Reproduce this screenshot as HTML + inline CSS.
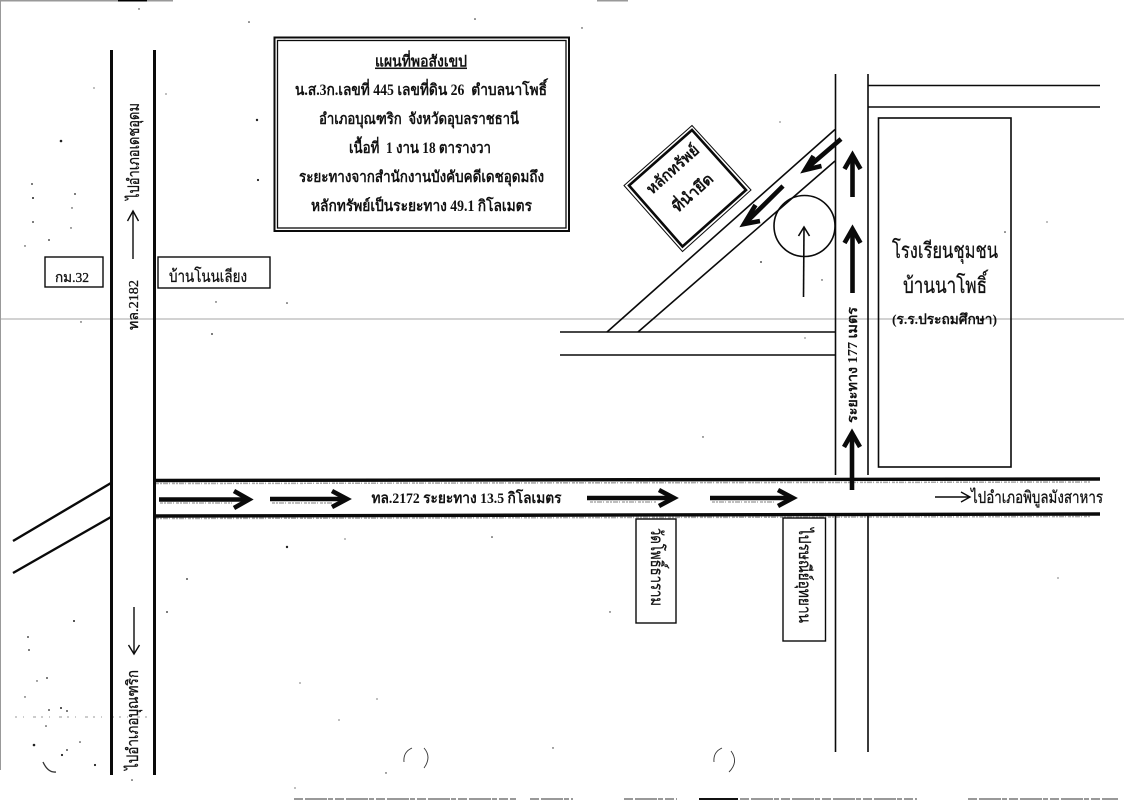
<!DOCTYPE html>
<html><head><meta charset="utf-8">
<style>
html,body{margin:0;padding:0;background:#fff;width:1124px;height:800px;overflow:hidden}
svg{display:block}
text{font-family:"Liberation Serif","Noto Serif CJK SC","WenQuanYi Zen Hei",serif;fill:#111}
.m{stroke:#111;stroke-width:.3}
</style></head><body>
<svg width="1124" height="800" viewBox="0 0 1124 800" xmlns="http://www.w3.org/2000/svg">
<rect width="1124" height="800" fill="#fff"/>
<!-- scan edges -->
<line x1="0" y1="319" x2="1124" y2="319" stroke="#a5a5a5" stroke-width="1"/>
<line x1="0.5" y1="0" x2="0.5" y2="770" stroke="#999" stroke-width="1"/>
<g stroke-width="2" fill="none">
<line x1="0" y1="0.5" x2="173" y2="0.5" stroke="#999"/>
<line x1="118" y1="0.5" x2="147" y2="0.5" stroke="#000"/>
<line x1="597" y1="0.5" x2="628" y2="0.5" stroke="#999"/>
<g stroke="#999" stroke-dasharray="9 2 22 1 5 2">
<line x1="294" y1="799" x2="516" y2="799"/>
<line x1="530" y1="799" x2="573" y2="799"/>
<line x1="624" y1="799" x2="677" y2="799"/>
<line x1="699" y1="799" x2="917" y2="799"/>
<line x1="968" y1="799" x2="1118" y2="799"/>
</g>
<line x1="699" y1="799" x2="738" y2="799" stroke="#111"/>
</g>
<!-- halftone noise beside the main road -->
<g fill="none" stroke="#aaa" stroke-width="1.6" stroke-dasharray="3 1 2 1 5 1 1 2">
<line x1="156" y1="483.5" x2="1090" y2="482"/>
<line x1="156" y1="518.5" x2="1090" y2="516.5"/>
<line x1="160" y1="503" x2="232" y2="503"/>
<line x1="272" y1="503" x2="332" y2="503"/>
<line x1="590" y1="502" x2="656" y2="502"/>
<line x1="712" y1="502" x2="776" y2="502"/>
<line x1="15" y1="717" x2="155" y2="717" stroke="#bbb" stroke-dasharray="2 6 1 9 3 5"/>
</g>
<!-- left vertical road -->
<g stroke="#0a0a0a" fill="none">
<line x1="111.5" y1="50" x2="111.5" y2="775" stroke-width="3"/>
<line x1="154.5" y1="50" x2="154.5" y2="775" stroke-width="3"/>
<line x1="13" y1="541" x2="111" y2="483" stroke-width="2.4"/>
<line x1="13" y1="573" x2="111" y2="517" stroke-width="2.4"/>
<!-- main road -->
<line x1="156" y1="480.5" x2="1100" y2="479" stroke-width="3.4"/>
<line x1="156" y1="516" x2="1100" y2="514" stroke-width="3.4"/>
<!-- right vertical road -->
<g stroke-width="1.6">
<line x1="835.5" y1="74" x2="835.5" y2="475"/>
<line x1="868" y1="74" x2="868" y2="475"/>
<line x1="835.5" y1="516" x2="835.5" y2="752"/>
<line x1="868" y1="516" x2="868" y2="752"/>
<line x1="868" y1="85.5" x2="1100" y2="85.5"/>
<line x1="868" y1="107" x2="1100" y2="107"/>
<rect x="878.5" y="118" width="132.5" height="349"/>
<line x1="560" y1="332" x2="835" y2="332"/>
<line x1="560" y1="355" x2="835" y2="355"/>
<line x1="607" y1="332" x2="835" y2="129.5"/>
<line x1="638" y1="332" x2="835" y2="161"/>
<circle cx="804.5" cy="226" r="30.5"/>
<line x1="803.5" y1="297" x2="804" y2="228"/>
<polyline points="798.5,236 804,227 809.5,236"/>
</g>
<!-- title box -->
<rect x="274.5" y="37.5" width="294.5" height="193.5" stroke-width="2"/>
<rect x="277.5" y="40.5" width="288.5" height="187.5" stroke-width="1.3"/>
<!-- label boxes -->
<g stroke-width="1.4">
<rect x="45" y="257" width="58" height="30"/>
<rect x="158" y="257" width="112" height="31"/>
<rect x="636" y="519" width="40" height="104"/>
<rect x="783" y="518" width="42.5" height="123"/>
</g>
<!-- diamond -->
<polygon points="692,125.5 751,190 682.5,251.5 624,185.5" stroke-width="1"/>
<polygon points="692,130 746,190 682.5,246.5 629,185.5" stroke-width="2.6"/>
<!-- thin arrows -->
<g stroke-width="1.4">
<line x1="133" y1="259" x2="133" y2="212"/>
<polyline points="127.5,221 133,211 138.5,221"/>
<line x1="134" y1="607" x2="134" y2="653"/>
<polyline points="128.5,645 134,654 139.5,645"/>
<line x1="935" y1="497" x2="969" y2="497"/>
<polyline points="961,492 970,497 961,502"/>
</g>
<!-- bold arrows -->
<g stroke-width="4.6">
<line x1="159" y1="499.5" x2="248" y2="499.5"/>
<polyline points="234,491 249,499.5 234,508"/>
<line x1="270" y1="499" x2="346" y2="499"/>
<polyline points="332,491 347,499 332,507"/>
<line x1="587" y1="498" x2="673" y2="498"/>
<polyline points="659,490 674,498 659,506"/>
<line x1="710" y1="498" x2="792" y2="498"/>
<polyline points="778,490 793,498 778,506"/>
<line x1="852.5" y1="197" x2="852.5" y2="155"/>
<polyline points="844.5,169 852.5,155 860.5,169"/>
<line x1="852.5" y1="293" x2="852.5" y2="229"/>
<polyline points="844.5,243 852.5,229 860.5,243"/>
<line x1="852" y1="490" x2="852" y2="433"/>
<polyline points="844,447 852,433 860,447"/>
<line x1="841" y1="139" x2="806" y2="169"/>
<polyline points="813.5,156 805,170 821.5,166"/>
<line x1="783" y1="186" x2="745.5" y2="223"/>
<polyline points="755.5,205 744,224 760,221"/>
</g>
<!-- stray partial circles -->
<g stroke="#333" stroke-width="0.9">
<path d="M412 748 Q403 752 404 762 M424 748 Q432 757 424 768"/>
<path d="M722 748 Q713 752 714 762 M731 751 Q739 762 729 772"/>
<path d="M43 762 Q48 773 56 772" stroke-width="1.3"/>
</g>
</g>
<!-- title text -->
<g font-weight="bold" text-anchor="start">
<text x="375" y="66.5" font-size="15.5" textLength="92" lengthAdjust="spacingAndGlyphs" text-decoration="underline">แผนที่พอสังเขป</text>
<text x="295" y="95" font-size="15.5" textLength="252" lengthAdjust="spacingAndGlyphs">น.ส.3ก.เลขที่ 445 เลขที่ดิน 26&#160;&#160;ตำบลนาโพธิ์</text>
<text x="319" y="124" font-size="15.5" textLength="200" lengthAdjust="spacingAndGlyphs">อำเภอบุณฑริก&#160;&#160;จังหวัดอุบลราชธานี</text>
<text x="349" y="153" font-size="15.5" textLength="142" lengthAdjust="spacingAndGlyphs">เนื้อที่&#160;&#160;1 งาน 18 ตารางวา</text>
<text x="299" y="182" font-size="15.5" textLength="245" lengthAdjust="spacingAndGlyphs">ระยะทางจากสำนักงานบังคับคดีเดชอุดมถึง</text>
<text x="311" y="211" font-size="15.5" textLength="221" lengthAdjust="spacingAndGlyphs">หลักทรัพย์เป็นระยะทาง 49.1 กิโลเมตร</text>
<!-- school -->
<text class="m" x="892" y="258" font-size="22" font-weight="normal" textLength="106" lengthAdjust="spacingAndGlyphs">โรงเรียนชุมชน</text>
<text class="m" x="903" y="293" font-size="22" font-weight="normal" textLength="84" lengthAdjust="spacingAndGlyphs">บ้านนาโพธิ์</text>
<text x="892" y="324" font-size="14" textLength="105" lengthAdjust="spacingAndGlyphs">(ร.ร.ประถมศึกษา)</text>
<!-- road labels -->
<text x="371.5" y="503" font-size="15" textLength="190" lengthAdjust="spacingAndGlyphs">ทล.2172 ระยะทาง 13.5 กิโลเมตร</text>
<text class="m" x="971" y="503" font-size="17" font-weight="normal" textLength="132" lengthAdjust="spacingAndGlyphs">ไปอำเภอพิบูลมังสาหาร</text>
<text class="m" x="55" y="282" font-size="14" font-weight="normal" textLength="34" lengthAdjust="spacingAndGlyphs">กม.32</text>
<text class="m" x="169" y="282" font-size="17" font-weight="normal" textLength="78" lengthAdjust="spacingAndGlyphs">บ้านโนนเลียง</text>
<!-- vertical labels -->
<text class="m" transform="translate(139 200) rotate(-90)" font-size="16" font-weight="normal" textLength="97" lengthAdjust="spacingAndGlyphs">ไปอำเภอเดชอุดม</text>
<text class="m" transform="translate(138 330) rotate(-90)" font-size="14" font-weight="normal" textLength="50" lengthAdjust="spacingAndGlyphs">ทล.2182</text>
<text class="m" transform="translate(138 770) rotate(-90)" font-size="16" font-weight="normal" textLength="100" lengthAdjust="spacingAndGlyphs">ไปอำเภอบุณฑริก</text>
<text transform="translate(857 423) rotate(-90)" font-size="14" textLength="116" lengthAdjust="spacingAndGlyphs">ระยะทาง 177 เมตร</text>
<text class="m" transform="translate(651 528) rotate(90)" font-size="17" font-weight="normal" textLength="78" lengthAdjust="spacingAndGlyphs">วัดโพธิ์ธาราม</text>
<text class="m" transform="translate(799 528) rotate(90)" font-size="17" font-weight="normal" textLength="95" lengthAdjust="spacingAndGlyphs">ไปรษณีย์อุทยาน</text>
<!-- diamond text -->
<text transform="translate(652 195) rotate(-42)" font-size="15.5" textLength="65" lengthAdjust="spacingAndGlyphs">หลักทรัพย์</text>
<text transform="translate(678 213) rotate(-42)" font-size="15.5" textLength="49" lengthAdjust="spacingAndGlyphs">ที่นำยึด</text>
</g>
<!-- speckles -->
<g fill="#222">
<circle cx="61" cy="141" r="1.3"/><circle cx="32" cy="184" r=".9"/><circle cx="33" cy="198" r="1"/><circle cx="75" cy="194" r=".9"/><circle cx="33" cy="222" r=".9"/><circle cx="72" cy="208" r=".7"/><circle cx="49" cy="240" r=".9"/><circle cx="25" cy="246" r=".7"/><circle cx="71" cy="228" r=".7"/><circle cx="257" cy="120" r="1.2"/><circle cx="258" cy="180" r="1.1"/><circle cx="216" cy="302" r=".7"/><circle cx="287" cy="303" r=".8"/><circle cx="212" cy="334" r=".9"/><circle cx="81" cy="322" r=".7"/><circle cx="94" cy="88" r=".6"/><circle cx="166" cy="94" r=".6"/>
<circle cx="287" cy="547" r="1.2"/><circle cx="187" cy="579" r=".9"/><circle cx="167" cy="612" r=".9"/><circle cx="492" cy="537" r=".8"/><circle cx="345" cy="539" r=".6"/><circle cx="74" cy="621" r="1"/><circle cx="28" cy="637" r=".9"/><circle cx="29" cy="650" r=".9"/><circle cx="47" cy="678" r=".9"/><circle cx="37" cy="681" r=".7"/><circle cx="25" cy="697" r=".7"/><circle cx="49" cy="710" r=".9"/><circle cx="61" cy="708" r="1"/><circle cx="67" cy="711" r=".9"/><circle cx="46" cy="726" r=".8"/><circle cx="34" cy="745" r="1.3"/><circle cx="80" cy="742" r=".8"/><circle cx="67" cy="750" r=".9"/><circle cx="62" cy="755" r="1.1"/><circle cx="95" cy="765" r="1.1"/><circle cx="132" cy="780" r=".8"/><circle cx="553" cy="748" r=".7"/><circle cx="300" cy="683" r=".6"/><circle cx="377" cy="699" r=".6"/><circle cx="339" cy="720" r=".6"/><circle cx="386" cy="773" r=".7"/><circle cx="295" cy="788" r=".6"/>
<circle cx="139" cy="9" r=".7"/><circle cx="249" cy="22" r=".8"/><circle cx="475" cy="19" r=".8"/><circle cx="582" cy="28" r=".7"/><circle cx="1047" cy="222" r=".6"/><circle cx="1005" cy="232" r=".8"/><circle cx="1058" cy="578" r=".6"/><circle cx="703" cy="437" r=".7"/><circle cx="610" cy="612" r=".7"/><circle cx="780" cy="122" r=".6"/><circle cx="761" cy="262" r=".9"/><circle cx="822" cy="280" r=".7"/><circle cx="805" cy="338" r=".6"/>
</g>
</svg>
</body></html>
